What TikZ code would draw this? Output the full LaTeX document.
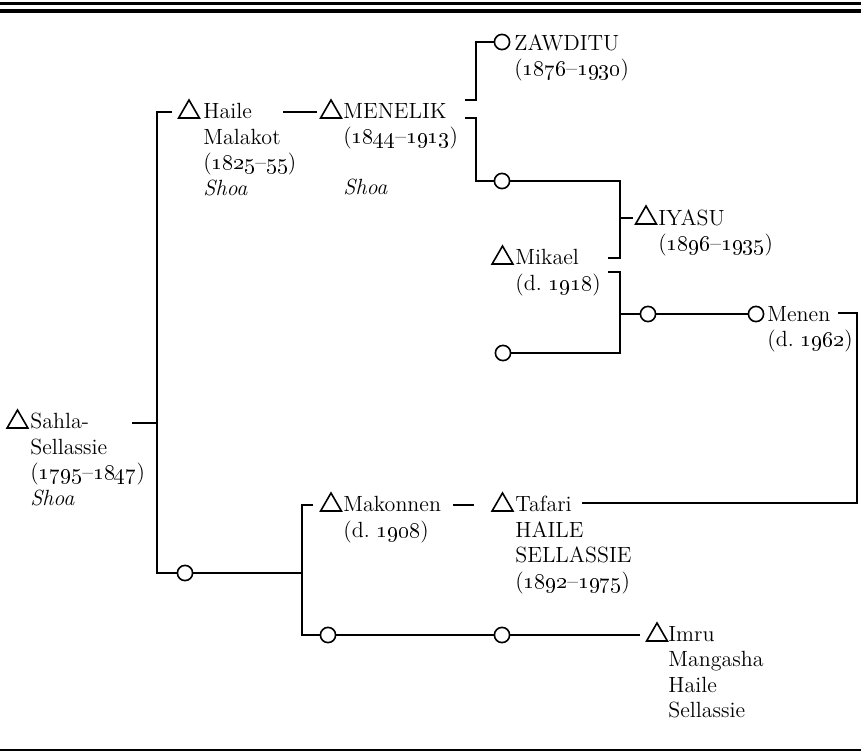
\documentclass[tikz,border=0pt]{standalone}
\usepackage{tikz}
\usetikzlibrary{positioning,shapes.geometric}
\newcommand{\os}[1]{\oldstylenums{#1}}
\frenchspacing

\begin{document}
\begin{tikzpicture}[x=0.5pt,y=-0.5pt, tri/.style={draw,regular polygon,regular polygon sides=3,minimum size=12pt,inner sep=0pt,outer sep=0pt,line width=0.8pt}, ring/.style={draw,circle,minimum size=7.6pt,inner sep=0pt,outer sep=0pt,line width=0.8pt}, txt/.style={anchor=north west,align=left,inner sep=0pt,font=\fontsize{11}{12.75}\selectfont}, ln/.style={line width=1.35pt}]
\useasboundingbox (0,0) rectangle (861,754);
\draw[line width=1.15pt] (0,3.5) -- (861,3.5);
\draw[line width=1.6pt] (0,11) -- (861,11);
\draw[line width=1.4pt] (0,750) -- (861,750);
% people
\node[tri] (sahla) at (17.5,422) {}; \node[txt] (sahlaT) at (30,413) {Sahla-\\Sellassie\\(\os{1795}--\os{1847})\\\textit{Shoa}};
\node[tri] (haile) at (189,112) {}; \node[txt] (haileT) at (203,103) {Haile\\Malakot\\(\os{1825}--\os{55})\\\textit{Shoa}};
\node[tri] (menelik) at (331,112) {}; \node[txt] (menelikT) at (343,103) {MENELIK\\(\os{1844}--\os{1913})\\[12.75pt]\textit{Shoa}};
\node[ring] (zaw) at (502,42) {}; \node[txt] (zawT) at (514,34) {ZAWDITU\\(\os{1876}--\os{1930})};
\node[ring] (dau) at (502,181) {};
\node[tri] (iyasu) at (646,218) {}; \node[txt] (iyasuT) at (658,209) {IYASU\\(\os{1896}--\os{1935})};
\node[tri] (mikael) at (502.5,258) {}; \node[txt] (mikaelT) at (515,249) {Mikael\\(d. \os{1918})};
\node[ring] (wm) at (503,353) {};
\node[ring] (par) at (648,314) {};
\node[ring] (menen) at (756,314) {}; \node[txt] (menenT) at (767,306) {Menen\\(d. \os{1962})};
\node[ring] (c1) at (185,573) {};
\node[tri] (mak) at (331,505) {}; \node[txt] (makT) at (343,496) {Makonnen\\(d. \os{1908})};
\node[tri] (taf) at (502.5,505) {}; \node[txt] (tafT) at (515,496) {Tafari\\HAILE\\SELLASSIE\\(\os{1892}--\os{1975})};
\node[ring] (c2) at (328,635) {}; \node[ring] (c3) at (502,635) {};
\node[tri] (imru) at (657,635) {}; \node[txt] (imruT) at (668,626) {Imru\\Mangasha\\Haile\\Sellassie};
% line ends and bends
\coordinate (s0) at (132,423); \coordinate (s1) at (157,423);
\coordinate (h0) at (283,112);
\coordinate (m0) at (465,100); \coordinate (m1) at (465,118); \coordinate (mv) at (476,109);
\coordinate (iv) at (620,218); \coordinate (k0) at (608,258); \coordinate (k1) at (608,272);
\coordinate (n0) at (838,313); \coordinate (tv) at (857,400); \coordinate (t0) at (582,503);
\coordinate (bv) at (302,570); \coordinate (k2) at (453,505);
% lines
\draw[ln] (s0) -- (s1);
\draw[ln] ([xshift=-5pt]haile.west) -| (s1 |- c1) -- (c1);
\draw[ln] (h0) -- ([xshift=-3.5pt]menelik.west);
\draw[ln] (m0) -| (mv |- zaw) -- (zaw);
\draw[ln] (m1) -| (mv |- dau) -- (dau);
\draw[ln] (dau) -| (iv |- k0) -- (k0);
\draw[ln] (iv) -- ([xshift=-3pt]iyasu.west);
\draw[ln] (k1) -| (iv |- wm) -- (wm);
\draw[ln] (iv |- par) -- (par); \draw[ln] (par) -- (menen);
\draw[ln] (n0) -| (tv |- t0) -- (t0);
\draw[ln] (c1) -- (bv |- c1);
\draw[ln] ([xshift=-5.5pt]mak.west) -| (bv |- c2) -- (c2);
\draw[ln] (k2) -- ([xshift=-11pt]taf.west);
\draw[ln] (c2) -- (c3); \draw[ln] (c3) -- ([xshift=-5pt]imru.west);
\end{tikzpicture}
\end{document}
